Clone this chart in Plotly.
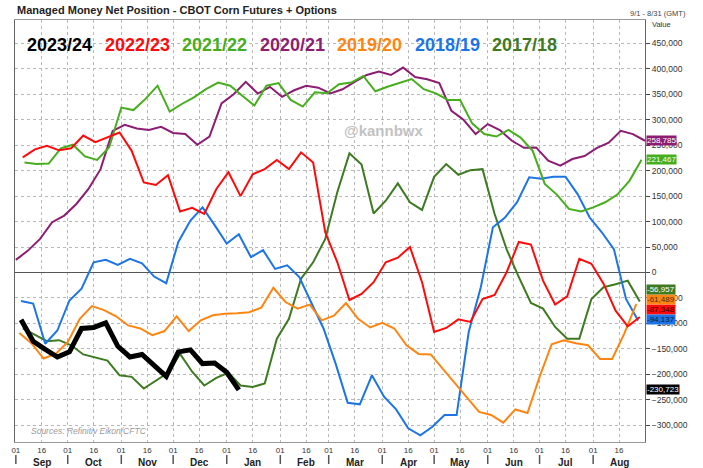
import pandas as pd
import plotly.graph_objects as go

# Weekly managed-money net position (contracts), seasonal Sep-Aug
net_2023_24 = [-92800, -135000, -151000, -166000, -156000, -110000, -108000, -99000, -145000, -166000,
               -161000, -182000, -204000, -156000, -152000, -179000, -178000, -196000, -230723]
net_2022_23 = [226000, 242000, 249000, 240000, 244000, 269000, 256000, 265000, 275000, 239000,
               177000, 172000, 191000, 120000, 127000, 115000, 164000, 197000, 150000, 193000,
               203000, 221000, 203000, 236000, 216000, 79000, 20000, -54000, -42000, -19000,
               20000, 29000, 50000, -19000, -117000, -109000, -92000, -97000, -52000, -44000,
               1000, 60000, 55000, -16000, -63000, -47000, 27000, 17000, -22000, -75000,
               -106000, -87348]
net_2021_22 = [216000, 213000, 214000, 244000, 251000, 228000, 221000, 246000, 324000, 319000,
               341000, 367000, 316000, 331000, 344000, 360000, 373000, 367000, 347000, 328000,
               367000, 372000, 339000, 326000, 354000, 352000, 370000, 373000, 386000, 356000,
               365000, 372000, 380000, 360000, 352000, 339000, 339000, 293000, 272000, 267000,
               280000, 265000, 239000, 174000, 153000, 125000, 120000, 128000, 138000, 153000,
               180000, 221467]
net_2020_21 = [24800, 43000, 66000, 98700, 111800, 134600, 164000, 203000, 278000, 290000,
               283000, 280000, 286000, 274000, 272000, 251000, 267000, 332000, 350000, 374500,
               351600, 364700, 345000, 358000, 366700, 363000, 351600, 360000, 374500, 388000,
               394800, 388000, 402600, 384000, 379700, 371900, 317600, 300000, 271900, 291500,
               279700, 258800, 245000, 245700, 219600, 209800, 222900, 228800, 244400, 254900,
               278400, 271900, 258785]
net_2019_20 = [-119000, -139000, -169000, -160000, -137000, -91000, -66000, -74000, -86000, -104000,
               -110000, -123000, -115000, -86000, -115000, -94000, -84000, -81000, -80000, -78000,
               -69000, -30000, -58000, -71000, -63000, -94000, -85000, -60000, -91000, -108000,
               -99000, -110000, -143000, -160000, -161000, -189000, -218000, -244000, -274000, -280000,
               -295000, -269000, -276000, -205000, -141000, -133000, -139000, -143000, -170000, -170000,
               -120000, -61489]
net_2018_19 = [-56000, -61000, -140000, -114000, -55000, -32000, 20000, 25000, 15000, 27000,
               18000, -8000, -21000, 60000, 102000, 128000, 93000, 57000, 75000, 30000,
               44000, 7000, 14000, -9000, -60000, -110000, -179000, -256000, -259000, -202000,
               -244000, -269000, -306000, -320000, -303000, -280000, -280000, -117000, -29000, 89000,
               108000, 138000, 187000, 184000, 188000, 188000, 154000, 108000, 79000, 46000,
               -52000, -94137]
net_2017_18 = [-110000, -123000, -135000, -133000, -143000, -161000, -167000, -173000, -202000, -205000,
               -228000, -213000, -197000, -160000, -195000, -222000, -207000, -197000, -222000, -225000,
               -218000, -130000, -91000, -12000, 20000, 66000, 158000, 234000, 212000, 116000,
               141000, 175000, 138000, 123000, 188000, 213000, 192000, 201000, 203000, 115000,
               45000, -9000, -60000, -71000, -107000, -130000, -130000, -52000, -29000, -23000,
               -16000, -56957]

seasons = ["2023/24", "2022/23", "2021/22", "2020/21", "2019/20", "2018/19", "2017/18"]
# first report date of each season, mapped onto a common Sep-Aug calendar
first_report = ["2022-09-04", "2022-09-05", "2022-09-06", "2022-09-01", "2022-09-03", "2022-09-04", "2022-09-05"]
month_names = ["Sep", "Oct", "Nov", "Dec", "Jan", "Feb", "Mar", "Apr", "May", "Jun", "Jul", "Aug"]

values = [net_2023_24, net_2022_23, net_2021_22, net_2020_21, net_2019_20, net_2018_19, net_2017_18]
colors = ["#000000", "#ff0a0a", "#46ad1c", "#8c1d72", "#ff8512", "#1c74e6", "#3d7a22"]
label_text = ["#ffffff", "#3a0000", "#ffffff", "#ffffff", "#4a2a00", "#0a1a40", "#ffffff"]
label_shift = [0, 7.5, 0, 0, 4.5, 0.5, 12]
legend_x = [25, 103, 180, 258, 335, 413, 490]

FONT = "Liberation Sans, Arial, sans-serif"
L, R, T, B = 15, 58, 20, 26
PW, PH = 703 - L - R, 468 - T - B


def px_x(x):
    return (x - L) / PW


def px_y(y):
    return (468 - B - y) / PH


fig = go.Figure()
for i in reversed(range(len(seasons))):
    dates = pd.date_range(first_report[i], periods=len(values[i]), freq="7D")
    fig.add_trace(
        go.Scatter(
            x=dates,
            y=values[i],
            name=seasons[i],
            mode="lines",
            line=dict(color=colors[i], width=5 if i == 0 else 2),
            showlegend=False,
        )
    )

months = pd.date_range("2022-09-01", periods=12, freq="MS")
tickvals, ticktext = [], []
for m in months:
    tickvals += [m, m + pd.Timedelta(days=15)]
    ticktext += ["01", "16"]

annotations = []
# seasons legend as big coloured text
for i, name in enumerate(seasons):
    annotations.append(dict(
        x=px_x(legend_x[i]), y=px_y(45), xref="paper", yref="paper",
        xanchor="left", yanchor="middle", showarrow=False,
        text=f"<b>{name}</b>", font=dict(family=FONT, size=18, color=colors[i]),
    ))
# last-value tags on the right axis
for i, vals in enumerate(values):
    annotations.append(dict(
        x=1, xref="paper", y=vals[-1], yref="y", xanchor="left", yanchor="middle",
        xshift=1, yshift=label_shift[i], showarrow=False,
        text=f"{vals[-1]:,.0f}", font=dict(family=FONT, size=8, color=label_text[i]),
        bgcolor=colors[i], borderpad=0,
    ))
# month names under the day ticks
for m, name in zip(months, month_names):
    annotations.append(dict(
        x=m + pd.Timedelta(days=15), xref="x", y=px_y(462), yref="paper",
        xanchor="center", yanchor="middle", showarrow=False,
        text=f"<b>{name}</b>", font=dict(family=FONT, size=10, color="#222"),
    ))
annotations += [
    dict(x=0, y=px_y(10), xref="paper", yref="paper", xanchor="left", yanchor="middle",
         showarrow=False, text="<b>Managed Money Net Position - CBOT Corn Futures + Options</b>",
         font=dict(family=FONT, size=11, color="#222")),
    dict(x=px_x(628), y=px_y(13), xref="paper", yref="paper", xanchor="left", yanchor="middle",
         showarrow=False, text="9/1 - 8/31 (GMT)", font=dict(family=FONT, size=7.5, color="#444")),
    dict(x=px_x(650), y=px_y(25), xref="paper", yref="paper", xanchor="left", yanchor="middle",
         showarrow=False, text="Value", font=dict(family=FONT, size=7.5, color="#333")),
    dict(x=px_x(383), y=px_y(130), xref="paper", yref="paper", xanchor="center", yanchor="middle",
         showarrow=False, text="<b>@kannbwx</b>", font=dict(family=FONT, size=15, color="#c2c2c2")),
    dict(x=px_x(29), y=px_y(431), xref="paper", yref="paper", xanchor="left", yanchor="middle",
         showarrow=False, text="<i>Sources: Refinitiv Eikon/CFTC</i>",
         font=dict(family=FONT, size=8.5, color="#9a9a9a")),
]

shapes = [
    dict(type="line", xref="x", yref="paper", x0=m, x1=m, y0=px_y(455), y1=px_y(464),
         line=dict(color="#555", width=1.5))
    for m in months
]

fig.update_layout(
    width=703,
    height=468,
    margin=dict(l=L, r=R, t=T, b=B, pad=0),
    paper_bgcolor="white",
    plot_bgcolor="white",
    font=dict(family=FONT, color="#333"),
    annotations=annotations,
    shapes=shapes,
    showlegend=False,
)
fig.update_xaxes(
    type="date",
    range=["2022-08-31 12:00", "2023-08-31 00:00"],
    tickvals=tickvals,
    ticktext=ticktext,
    tickfont=dict(size=8, color="#333"),
    ticks="",
    showgrid=True,
    gridcolor="#b8b8b8",
    griddash="dot",
    gridwidth=1,
    showline=True,
    linecolor="#999",
    mirror=True,
)
fig.update_yaxes(
    side="right",
    range=[-333000, 496000],
    tick0=0,
    dtick=50000,
    tickformat=",",
    ticks="outside",
    ticklen=4,
    tickcolor="#444",
    tickfont=dict(size=8.5, color="#333"),
    showgrid=True,
    gridcolor="#b8b8b8",
    griddash="dot",
    gridwidth=1,
    zeroline=True,
    zerolinecolor="#555",
    zerolinewidth=1,
    showline=True,
    linecolor="#666",
    mirror=True,
)
# drop the default page margin so the figure sits at the window's top-left corner
fig.write_html(
    "out.html",
    config={"displayModeBar": False},
    post_script="document.body.style.margin='0px';",
)
